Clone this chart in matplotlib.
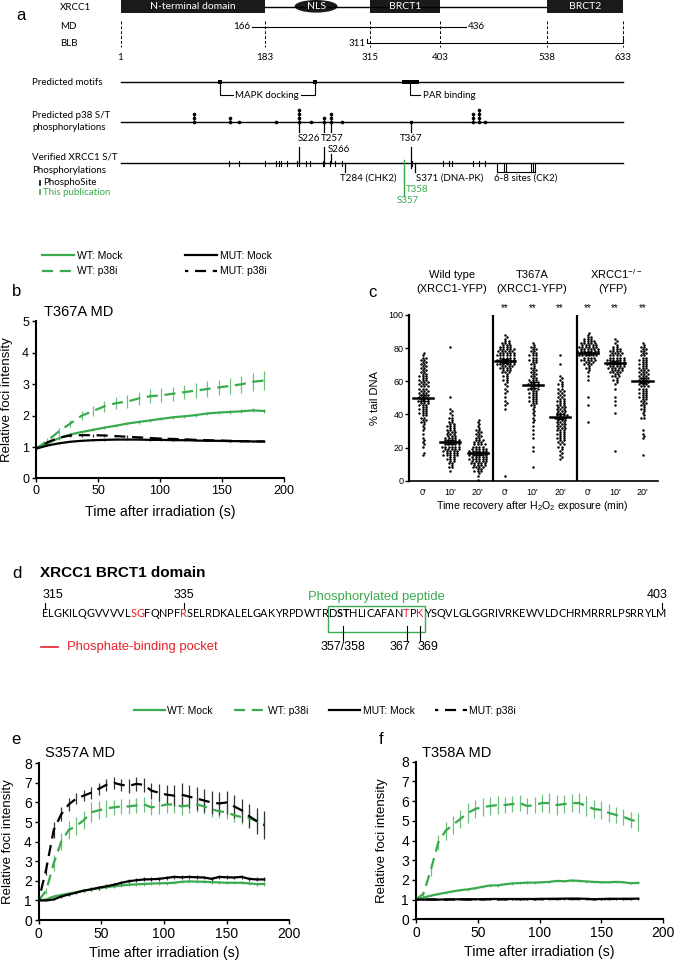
import numpy as np
import matplotlib
matplotlib.use("Agg")
import matplotlib.pyplot as plt
from matplotlib.patches import Rectangle, Ellipse

W, H = 675, 963
GREEN = "#3aaa4f"
GREEN_ERR = "#6cc27a"
RED = "#e8202a"
A_FONT = ["Lato", "DejaVu Sans"]

plt.rcParams["font.family"] = ["Liberation Sans", "DejaVu Sans"]
plt.rcParams["mathtext.default"] = "regular"

# ---------------- data ----------------
# a: XRCC1 domain map (residue numbers)
domains = [("N-terminal domain", 1, 183), ("BRCT1", 315, 403), ("BRCT2", 538, 633)]
nls_res = 247
md_range = (166, 436)
blb_range = (311, 633)
boundary_res = [1, 183, 315, 403, 538, 633]
mapk_res = [126, 246]
par_range = (355, 376)
p38_res = [93, 139, 150, 197, 226, 240, 257, 266, 280, 367, 445, 452, 460]
p38_count = [3, 2, 1, 1, 4, 1, 2, 3, 1, 1, 3, 4, 1]
site_res = [137, 150, 183, 197, 200, 203, 210, 223, 226, 234, 239, 256, 257,
            264, 271, 280, 368, 407, 414, 418, 445, 452, 460]
ck2_res = [475, 484, 486, 517, 520, 522]
green_res = [357, 358]

# b: T367A MD recruitment
t_b = np.linspace(0, 184, 21)
b_wt_mock = [0.95, 1.12, 1.28, 1.4, 1.48, 1.55, 1.62, 1.68, 1.75, 1.8, 1.85, 1.9, 1.95,
             1.98, 2.02, 2.07, 2.1, 2.12, 2.14, 2.17, 2.15]
b_wt_mock_err = [0.02, 0.03, 0.04, 0.04, 0.04, 0.05, 0.05, 0.05, 0.05, 0.05, 0.05, 0.05,
                 0.05, 0.05, 0.05, 0.05, 0.06, 0.06, 0.06, 0.06, 0.06]
b_wt_p38 = [0.95, 1.2, 1.5, 1.75, 2.0, 2.15, 2.3, 2.4, 2.45, 2.55, 2.62, 2.65, 2.7, 2.75,
            2.8, 2.85, 2.9, 2.95, 3.0, 3.08, 3.12]
b_wt_p38_err = [0.02, 0.08, 0.1, 0.12, 0.14, 0.16, 0.18, 0.2, 0.2, 0.2, 0.22, 0.22, 0.22,
                0.22, 0.24, 0.24, 0.25, 0.26, 0.27, 0.28, 0.3]
b_mut_mock = [0.95, 1.05, 1.12, 1.17, 1.2, 1.22, 1.23, 1.24, 1.24, 1.24, 1.23, 1.23, 1.22,
              1.22, 1.21, 1.2, 1.2, 1.19, 1.19, 1.18, 1.18]
b_mut_mock_err = [0.02] * 21
b_mut_p38 = [0.95, 1.15, 1.3, 1.37, 1.38, 1.38, 1.37, 1.35, 1.33, 1.31, 1.29, 1.27, 1.26,
             1.25, 1.23, 1.22, 1.21, 1.2, 1.19, 1.18, 1.18]
b_mut_p38_err = [0.02, 0.04, 0.05, 0.05, 0.05, 0.05, 0.04, 0.04, 0.04, 0.04, 0.04, 0.04,
                 0.03, 0.03, 0.03, 0.03, 0.03, 0.03, 0.03, 0.03, 0.03]

# c: comet assay, % tail DNA (counts per 2.5 % bin, starting at bin c_bin_start)
c_groups = ["Wild type", "T367A", "XRCC1$^{-/-}$"]
c_ticks = ["0'", "10'", "20'", "0'", "10'", "20'", "0'", "10'", "20'"]
c_means = [49.7, 23.2, 16.5, 72.4, 57.8, 38.6, 76.9, 71.2, 60.3]
c_sem = [1.8, 1.3, 1.0, 1.2, 1.8, 1.5, 1.0, 1.0, 1.5]
c_bin_start = [6, 2, 0, 1, 3, 5, 14, 7, 6]
c_counts = [
    [2, 0, 2, 2, 1, 1, 2, 2, 4, 4, 5, 5, 6, 7, 6, 6, 6, 6, 5, 5, 4, 4, 4, 4, 2],
    [1, 3, 4, 5, 9, 10, 11, 10, 7, 6, 5, 5, 3, 3, 2, 1, 0, 0, 1, 0, 0, 0, 0, 0, 0, 0, 0, 0, 0, 0, 1],
    [1, 2, 5, 8, 10, 11, 12, 11, 8, 6, 4, 4, 3, 2, 2],
    [1, 0, 0, 0, 0, 0, 0, 0, 0, 0, 0, 0, 0, 0, 0, 0, 1, 2, 1, 1, 2, 2, 2, 3, 3, 6, 8, 11, 11, 11, 10, 7, 5, 2, 1],
    [1, 0, 0, 0, 1, 1, 0, 1, 1, 1, 1, 2, 2, 2, 2, 4, 5, 5, 5, 7, 7, 5, 4, 4, 3, 4, 5, 5, 4, 3, 1],
    [2, 2, 2, 4, 4, 5, 5, 6, 6, 6, 8, 6, 6, 5, 5, 4, 4, 3, 3, 2, 1, 0, 0, 1, 0, 1],
    [1, 0, 0, 0, 1, 0, 1, 0, 0, 0, 1, 1, 2, 3, 6, 9, 12, 13, 11, 9, 5, 2],
    [1, 0, 0, 0, 0, 0, 0, 0, 0, 1, 0, 1, 1, 1, 0, 1, 2, 3, 5, 8, 10, 11, 11, 8, 7, 3, 2, 1],
    [1, 0, 0, 0, 2, 1, 1, 0, 0, 3, 2, 3, 4, 4, 5, 5, 6, 6, 6, 6, 6, 5, 5, 5, 4, 4, 3, 1],
]
BIN = 2.5

# d: BRCT1 sequence
seq = "ELGKILQGVVVVLSGFQNPFRSELRDKALELGAKYRPDWTRDSTHLICAFANTPKYSQVLGLGGRIVRKEWVLDCHRMRRRLPSRRYLM"
seq_start = 315
red_res = [328, 329, 335, 367, 369]
bold_res = [357, 358]

# e / f: recruitment of S357A / T358A MD
t_ef = np.arange(0, 181, 6)
e_wt_mock = [1.0, 1.05, 1.2, 1.28, 1.35, 1.42, 1.5, 1.55, 1.62, 1.68, 1.72, 1.76, 1.8, 1.82,
             1.84, 1.86, 1.87, 1.88, 1.9, 1.95, 1.97, 1.96, 1.95, 1.93, 1.92, 1.9, 1.9, 1.9,
             1.87, 1.83, 1.84]
e_wt_mock_err = [0.0, 0.03, 0.05, 0.05, 0.06, 0.06, 0.07, 0.07, 0.07, 0.08, 0.08, 0.08, 0.08,
                 0.08, 0.08, 0.08, 0.08, 0.08, 0.08, 0.08, 0.08, 0.08, 0.08, 0.08, 0.08, 0.08,
                 0.08, 0.08, 0.08, 0.08, 0.08]
e_wt_p38 = [1.0, 1.5, 2.9, 4.0, 4.6, 4.8, 5.1, 5.5, 5.6, 5.7, 5.75, 5.8, 5.8, 5.85, 5.9, 5.75,
            5.8, 5.9, 5.9, 5.8, 5.85, 5.9, 5.8, 5.65, 5.55, 5.5, 5.35, 5.25, 5.2, 5.05, 4.95]
e_wt_p38_err = [0.0, 0.15, 0.4, 0.45, 0.45, 0.45, 0.45, 0.5, 0.45, 0.45, 0.4, 0.4, 0.4, 0.4,
                0.4, 0.4, 0.4, 0.45, 0.45, 0.45, 0.4, 0.4, 0.4, 0.4, 0.35, 0.35, 0.35, 0.35,
                0.4, 0.4, 0.4]
e_mut_mock = [1.0, 1.0, 1.05, 1.2, 1.3, 1.4, 1.5, 1.57, 1.65, 1.72, 1.8, 1.9, 1.98, 2.03, 2.07,
              2.08, 2.1, 2.15, 2.2, 2.18, 2.2, 2.18, 2.17, 2.1, 2.2, 2.18, 2.17, 2.2, 2.1, 2.07,
              2.07]
e_mut_mock_err = [0.0, 0.03, 0.05, 0.06, 0.07, 0.08, 0.08, 0.09, 0.1, 0.1, 0.1, 0.1, 0.1, 0.1,
                  0.1, 0.1, 0.1, 0.1, 0.1, 0.1, 0.1, 0.1, 0.1, 0.1, 0.1, 0.1, 0.1, 0.1, 0.1,
                  0.1, 0.1]
e_mut_p38 = [1.0, 2.6, 4.6, 5.4, 5.9, 6.2, 6.35, 6.5, 6.7, 6.9, 7.0, 6.9, 6.85, 6.95, 6.9, 6.6,
             6.5, 6.4, 6.35, 6.4, 6.3, 6.2, 6.1, 6.0, 5.95, 6.0, 5.8, 5.6, 5.3, 5.05, 4.85]
e_mut_p38_err = [0.0, 0.3, 0.4, 0.35, 0.35, 0.3, 0.3, 0.3, 0.3, 0.3, 0.3, 0.3, 0.35, 0.35,
                 0.35, 0.4, 0.45, 0.5, 0.55, 0.6, 0.6, 0.6, 0.6, 0.6, 0.6, 0.6, 0.6, 0.6, 0.6,
                 0.65, 0.7]

f_wt_mock = [1.0, 1.1, 1.2, 1.28, 1.35, 1.42, 1.48, 1.52, 1.58, 1.65, 1.72, 1.72, 1.78, 1.82,
             1.84, 1.86, 1.86, 1.88, 1.9, 1.95, 1.93, 1.97, 1.95, 1.92, 1.9, 1.88, 1.88, 1.9,
             1.88, 1.83, 1.85]
f_wt_mock_err = [0.0, 0.03, 0.04, 0.05, 0.05, 0.05, 0.05, 0.06, 0.06, 0.06, 0.06, 0.06, 0.06,
                 0.06, 0.06, 0.06, 0.06, 0.06, 0.06, 0.06, 0.06, 0.06, 0.06, 0.06, 0.06, 0.06,
                 0.06, 0.06, 0.06, 0.06, 0.06]
f_wt_p38 = [1.0, 1.3, 2.5, 3.9, 4.5, 4.8, 5.1, 5.4, 5.6, 5.7, 5.75, 5.8, 5.8, 5.85, 5.9, 5.75,
            5.8, 5.9, 5.9, 5.8, 5.85, 5.9, 5.9, 5.75, 5.6, 5.55, 5.4, 5.3, 5.2, 5.05, 4.95]
f_wt_p38_err = [0.0, 0.15, 0.3, 0.4, 0.45, 0.45, 0.45, 0.5, 0.45, 0.45, 0.45, 0.45, 0.4, 0.4,
                0.4, 0.4, 0.4, 0.45, 0.5, 0.5, 0.45, 0.45, 0.5, 0.5, 0.45, 0.45, 0.45, 0.4,
                0.4, 0.4, 0.45]
f_mut_mock = [1.0, 1.0, 1.0, 1.0, 1.01, 1.01, 1.02, 1.02, 1.02, 1.02, 1.03, 1.03, 1.03, 1.03,
              1.03, 1.03, 1.03, 1.04, 1.04, 1.04, 1.05, 1.05, 1.05, 1.04, 1.02, 1.03, 1.04,
              1.04, 1.04, 1.04, 1.05]
f_mut_mock_err = [0.03] * 31
f_mut_p38 = [1.0, 1.0, 1.01, 1.0, 1.0, 1.01, 1.01, 1.0, 1.01, 1.01, 1.02, 1.01, 1.01, 1.02,
             1.02, 1.02, 1.02, 1.02, 1.03, 1.03, 1.03, 1.03, 1.03, 1.03, 1.02, 1.02, 1.03,
             1.03, 1.03, 1.03, 1.03]
f_mut_p38_err = [0.03] * 31

LABELS = ["WT: Mock", "WT: p38i", "MUT: Mock", "MUT: p38i"]
STYLES = [(GREEN, "-"), (GREEN, (0, (5, 3))), ("black", "-"), ("black", (3.5, (5, 3)))]

# ---------------- helpers ----------------
fig = plt.figure(figsize=(W / 100, H / 100), dpi=100)
fig.patch.set_facecolor("white")


def add_ax(left, top, right, bottom):
    return fig.add_axes([left / W, 1 - bottom / H, (right - left) / W, (bottom - top) / H])


def ftext(x, y, s, **kw):
    return fig.text(x / W, 1 - y / H, s, **kw)


def rx(px):
    # pixel column -> residue number on the panel a scale
    return 1 + (px - 120.5) / 0.795


def style_curve_ax(ax, ymax, tsize):
    for s in ["top", "right"]:
        ax.spines[s].set_visible(False)
    ax.spines["left"].set_linewidth(1.5)
    ax.spines["bottom"].set_linewidth(1.5)
    ax.set_xlim(0, 200)
    ax.set_ylim(0, ymax)
    ax.set_xticks([0, 50, 100, 150, 200])
    ax.set_yticks(range(ymax + 1))
    ax.tick_params(direction="out", length=3, width=1, labelsize=tsize, pad=2)


def draw_curves(ax, t, series, errs):
    lines = []
    for (col, ls), y, e in zip(STYLES, series, errs):
        y = np.asarray(y)
        e = np.asarray(e)
        ecol = GREEN_ERR if col == GREEN else "#333333"
        ax.vlines(t, y - e, y + e, color=ecol, lw=0.9, zorder=2)
        ln, = ax.plot(t, y, color=col, ls=ls, lw=1.6, zorder=3)
        lines.append(ln)
    return lines


# ---------------- panel a ----------------
ax_a = add_ax(0, 0, W, 210)
ax_a.set_xlim(rx(0), rx(W))
ax_a.set_ylim(210, 0)
ax_a.axis("off")
ak = dict(family=A_FONT, fontsize=7, va="center")

ax_a.plot([183, 538], [6.7, 6.7], color="k", lw=1)
for name, r0, r1 in domains:
    ax_a.add_patch(Rectangle((r0, -2), r1 - r0, 15.3, color="#1a1a1a", lw=0))
    ax_a.text((r0 + r1) / 2, 6.3, name, color="white", ha="center", **dict(ak, fontsize=7.5))
ax_a.add_patch(Ellipse((nls_res, 6.3), 54, 12.6, color="#1a1a1a", lw=0))
ax_a.text(nls_res, 6.3, "NLS", color="white", ha="center", **dict(ak, fontsize=7.5))

for lab, y in [("XRCC1", 7), ("MD", 26.5), ("BLB", 43)]:
    ax_a.text(rx(60), y, lab, ha="left", **ak)
ax_a.plot(md_range, [26.7, 26.7], color="k", lw=0.8)
ax_a.text(md_range[0] - 2, 26.7, str(md_range[0]), ha="right", **ak)
ax_a.text(md_range[1] + 2, 26.7, str(md_range[1]), ha="left", **ak)
ax_a.plot([blb_range[0], blb_range[0], blb_range[1], blb_range[1]], [39.5, 43.3, 43.3, 39.5],
          color="k", lw=0.8)
ax_a.text(blb_range[0] - 2, 43.3, str(blb_range[0]), ha="right", **ak)
for r in boundary_res:
    ax_a.plot([r, r], [21, 47], color="k", lw=0.7, ls=(0, (3, 2)))
    ax_a.text(r, 57.3, str(r), ha="center", **ak)

# predicted motifs
y_m = 82.3
ax_a.plot([1, 633], [y_m, y_m], color="k", lw=1)
ax_a.text(rx(32), y_m, "Predicted motifs", ha="left", **ak)
for r in mapk_res:
    ax_a.add_patch(Rectangle((r - 2.7, y_m - 2), 5.4, 4, color="k", lw=0))
ax_a.add_patch(Rectangle((par_range[0], y_m - 2), par_range[1] - par_range[0], 4, color="k", lw=0))
ax_a.plot([mapk_res[0], mapk_res[0], rx(232.5)], [y_m + 2, 95, 95], color="k", lw=0.8)
ax_a.plot([rx(301), mapk_res[1], mapk_res[1]], [95, 95, y_m + 2], color="k", lw=0.8)
ax_a.text(rx(267), 95, "MAPK docking", ha="center", **ak)
par_mid = (par_range[0] + par_range[1]) / 2
ax_a.plot([par_mid, par_mid, rx(420)], [y_m + 2, 95, 95], color="k", lw=0.8)
ax_a.text(rx(423), 95, "PAR binding", ha="left", **ak)

# predicted p38 sites
y_p = 121.7
ax_a.plot([1, 633], [y_p, y_p], color="k", lw=1)
ax_a.text(rx(32), 115, "Predicted p38 S/T", ha="left", **ak)
ax_a.text(rx(32), 127.7, "phosphorylations", ha="left", **ak)
for r, n in zip(p38_res, p38_count):
    ys = y_p - 4 * np.arange(n)
    ax_a.plot([r, r], [y_p, ys[-1]], color="k", lw=0.8)
    ax_a.plot([r] * n, ys, "o", ms=2.6, color="k", mew=0)
for r in [226, 257, 266, 367]:
    ax_a.plot([r, r], [y_p, 131.7], color="k", lw=0.9)
for lab, px, y in [("S226", 309, 138.3), ("T257", 332, 138.3), ("S266", 339, 149),
                   ("T367", 411.6, 138.3)]:
    ax_a.text(rx(px), y, lab, ha="center", **ak)

# verified sites
y_v = 163.3
ax_a.plot([1, 633], [y_v, y_v], color="k", lw=1)
ax_a.text(rx(32), 156.7, "Verified XRCC1 S/T", ha="left", **ak)
ax_a.text(rx(32), 170.7, "Phosphorylations", ha="left", **ak)
ax_a.text(rx(43), 182.7, "PhosphoSite", ha="left", **ak)
ax_a.text(rx(43), 192.3, "This publication", ha="left", color=GREEN, **ak)
ax_a.plot([rx(39.6)] * 2, [180.7, 184.7], color="k", lw=1.2)
ax_a.plot([rx(39.6)] * 2, [190.3, 194.3], color=GREEN, lw=1.2)
for r in site_res:
    ax_a.plot([r, r], [y_v - 2.7, y_v + 2.7], color="k", lw=0.8)
for r, y0, y1 in [(226, 146.7, y_v), (257, 146.7, y_v), (266, 154, y_v), (367, 146.7, 168),
                  (284, y_v, 171.7), (371, y_v, 171.7)]:
    ax_a.plot([r, r], [y0, y1], color="k", lw=0.9)
for r in ck2_res:
    ax_a.plot([r, r], [y_v, 171.7], color="k", lw=0.8)
ax_a.plot([ck2_res[0], ck2_res[-1]], [171.7, 171.7], color="k", lw=0.8)
for r in green_res:
    ax_a.plot([r, r], [160, 196], color=GREEN, lw=0.9)
ax_a.text(rx(368), 178.3, "T284 (CHK2)", ha="center", **ak)
ax_a.text(372.5, 178.3, "S371 (DNA-PK)", ha="left", **ak)
ax_a.text(rx(525.6), 178.3, "6-8 sites (CK2)", ha="center", **ak)
ax_a.text(359.5, 189.3, "T358", ha="left", color=GREEN, **ak)
ax_a.text(rx(408), 200.7, "S357", ha="center", color=GREEN, **ak)

ftext(16, 16, "a", fontsize=12, va="center")

# ---------------- panel b ----------------
ax_b = add_ax(36, 321.5, 284, 478.5)
style_curve_ax(ax_b, 5, 9)
lines_b = draw_curves(ax_b, t_b, [b_wt_mock, b_wt_p38, b_mut_mock, b_mut_p38],
                      [b_wt_mock_err, b_wt_p38_err, b_mut_mock_err, b_mut_p38_err])
ax_b.set_ylabel("Relative foci intensity", fontsize=9.5)
ax_b.yaxis.set_label_coords(-0.093, 0.5)
ax_b.set_xlabel("Time after irradiation (s)", fontsize=10.2, va="top")
ax_b.xaxis.set_label_coords(0.5, -0.17)
ax_b.legend(lines_b, LABELS, ncol=2, loc="upper left", bbox_to_anchor=(42 / W, 1 - 251 / H),
            bbox_transform=fig.transFigure, frameon=False, fontsize=7.5, handlelength=3.1,
            handletextpad=0.25, columnspacing=6.0, labelspacing=0.5, borderpad=0,
            borderaxespad=0)
ftext(44, 311.7, "T367A MD", fontsize=10.5, va="center")
ftext(12, 292, "b", fontsize=12, va="center")

# ---------------- panel c ----------------
ax_c = add_ax(409, 315, 658, 480.7)
ax_c.set_xlim(-0.5, 8.56)
ax_c.set_ylim(0, 100)
for k in range(9):
    xs, ys = [], []
    for j, n in enumerate(c_counts[k]):
        lo = (c_bin_start[k] + j) * BIN
        for row, m in enumerate([(n + 1) // 2, n // 2]):
            if m == 0:
                continue
            off = (np.arange(m) - (m - 1) / 2) * 0.125 + (0.06 if row else 0)
            xs.extend(k + off)
            ys.extend([lo + (0.6 if row == 0 else 1.85)] * m)
    ax_c.scatter(xs, ys, s=3.2, color="k", linewidths=0, zorder=2)
    ax_c.plot([k - 0.37, k + 0.37], [c_means[k]] * 2, color="k", lw=1.8, zorder=3)
    ax_c.errorbar(k, c_means[k], yerr=c_sem[k], color="k", lw=1, capsize=3.2, capthick=1,
                  zorder=3)
for xd in [2.546, 5.6]:
    ax_c.plot([xd, xd], [0, 100], color="k", lw=1.6)
for s in ["top", "right"]:
    ax_c.spines[s].set_visible(False)
ax_c.spines["left"].set_linewidth(1.6)
ax_c.spines["bottom"].set_linewidth(1.2)
ax_c.set_yticks([0, 20, 40, 60, 80, 100])
ax_c.set_xticks(range(9))
ax_c.set_xticklabels(c_ticks)
ax_c.tick_params(axis="y", direction="out", length=3, width=1, labelsize=6.5, pad=1)
ax_c.tick_params(axis="x", length=0, labelsize=6.5, pad=5)
ax_c.set_ylabel("% tail DNA", fontsize=8)
ax_c.yaxis.set_label_coords(-0.116, 0.5)
ax_c.set_xlabel("Time recovery after H$_2$O$_2$ exposure (min)", fontsize=7.6, va="top")
ax_c.xaxis.set_label_coords(0.494, -0.112)
for k in range(3, 9):
    ax_c.text(k, 104.3, "**", ha="center", va="center", fontsize=7, clip_on=False)
gk = dict(ha="center", va="center", fontsize=8, clip_on=False)
ax_c.text(1.05, 124, c_groups[0], **gk)
ax_c.text(1.05, 115.6, "(XRCC1-YFP)", **gk)
ax_c.text(3.97, 124, c_groups[1], **gk)
ax_c.text(3.97, 115.6, "(XRCC1-YFP)", **gk)
ax_c.text(7.05, 124.5, c_groups[2], **gk)
ax_c.text(6.92, 115.6, "(YFP)", **gk)
ftext(368, 292.7, "c", fontsize=12, va="center")

# ---------------- panel d ----------------
ax_d = add_ax(0, 560, W, 665)
ax_d.set_xlim(0, W)
ax_d.set_ylim(665, 560)
ax_d.axis("off")
renderer = fig.canvas.get_renderer()


def text_width(s, size):
    if not s:
        return 0.0
    t = ax_d.text(0, 0, s, fontsize=size, family=A_FONT)
    w = t.get_window_extent(renderer).width
    t.remove()
    return w


seq_x0, seq_x1 = 42, 662
fs = 10 * (seq_x1 - seq_x0) / text_width(seq, 10)
lefts = [seq_x0 + text_width(seq[:i], fs) for i in range(len(seq) + 1)]
y_seq = 613.3
for i, ch in enumerate(seq):
    res = seq_start + i
    ax_d.text(lefts[i], y_seq, ch, ha="left", va="center", fontsize=fs, family=A_FONT,
              color=RED if res in red_res else "black",
              fontweight="bold" if res in bold_res else "normal")


def cx(res):
    i = res - seq_start
    return (lefts[i] + lefts[i + 1]) / 2


for res, ha, dx in [(315, "left", -3), (335, "center", 0), (403, "right", 6)]:
    x = cx(res)
    ax_d.plot([x, x], [602.7, 609.3], color="k", lw=0.8)
    ax_d.text(x + dx, 595, str(res), ha=ha, va="center", fontsize=9)
bx0 = lefts[356 - seq_start] - 1
bx1 = lefts[369 - seq_start + 1] + 1
ax_d.add_patch(Rectangle((bx0, 606), bx1 - bx0, 25.7, fill=False, edgecolor=GREEN, lw=1))
ax_d.text((bx0 + bx1) / 2, 596.7, "Phosphorylated peptide", ha="center", va="center",
          fontsize=9.4, color=GREEN)
for x, lab, dx in [(lefts[358 - seq_start], "357/358", 0), (cx(367), "367", -7),
                   (cx(369), "369", 8)]:
    ax_d.plot([x, x], [626, 640], color="k", lw=0.8)
    ax_d.text(x + dx, 646.7, lab, ha="center", va="center", fontsize=9)
ax_d.plot([41, 58], [646.7, 646.7], color=RED, lw=1.2)
ax_d.text(66.7, 646.7, "Phosphate-binding pocket", ha="left", va="center", fontsize=9.4,
          color=RED)
ftext(40, 573.3, "XRCC1 BRCT1 domain", fontsize=11, fontweight="bold", va="center")
ftext(12, 573.3, "d", fontsize=12, va="center")

# ---------------- panels e, f ----------------
ax_e = add_ax(38.7, 763.3, 289.3, 920)
style_curve_ax(ax_e, 8, 10)
lines_e = draw_curves(ax_e, t_ef, [e_wt_mock, e_wt_p38, e_mut_mock, e_mut_p38],
                      [e_wt_mock_err, e_wt_p38_err, e_mut_mock_err, e_mut_p38_err])
ax_e.set_ylabel("Relative foci intensity", fontsize=9.5)
ax_e.yaxis.set_label_coords(-0.1, 0.5)
ax_e.set_xlabel("Time after irradiation (s)", fontsize=10.2, va="top")
ax_e.xaxis.set_label_coords(0.5, -0.165)
ftext(45, 752.7, "S357A MD", fontsize=10.5, va="center")
ftext(10.8, 739.3, "e", fontsize=12, va="center")

ax_f = add_ax(416, 761.7, 663, 919.3)
style_curve_ax(ax_f, 8, 10)
draw_curves(ax_f, t_ef, [f_wt_mock, f_wt_p38, f_mut_mock, f_mut_p38],
            [f_wt_mock_err, f_wt_p38_err, f_mut_mock_err, f_mut_p38_err])
ax_f.set_ylabel("Relative foci intensity", fontsize=9.5)
ax_f.yaxis.set_label_coords(-0.112, 0.5)
ax_f.set_xlabel("Time after irradiation (s)", fontsize=10.2, va="top")
ax_f.xaxis.set_label_coords(0.5, -0.165)
ftext(422, 753.3, "T358A MD", fontsize=10.5, va="center")
ftext(378.8, 739.3, "f", fontsize=12, va="center")

fig.legend(lines_e, LABELS, ncol=4, loc="upper left", bbox_to_anchor=(133.5 / W, 1 - 706 / H),
           frameon=False, fontsize=7.5, handlelength=3.0, handletextpad=0.25,
           columnspacing=2.0, borderpad=0, borderaxespad=0)

fig.savefig("out.png", dpi=100)
